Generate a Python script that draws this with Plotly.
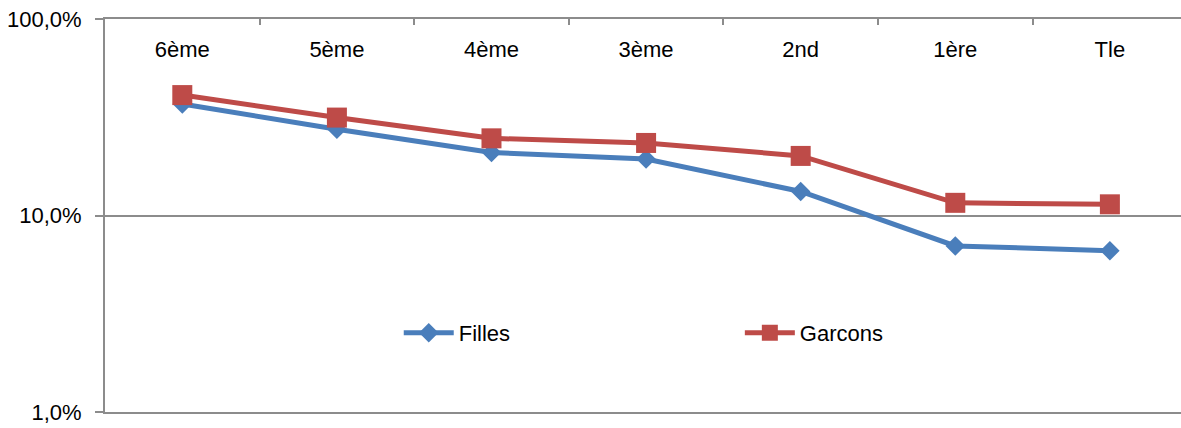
import plotly.graph_objects as go

categories = ["6ème", "5ème", "4ème", "3ème", "2nd", "1ère", "Tle"]
filles = [36.9, 27.5, 20.9, 19.4, 13.25, 7.0, 6.62]
garcons = [41.0, 31.5, 24.7, 23.4, 20.1, 11.6, 11.4]
ytick_vals = [1, 10, 100]
ytick_text = ["1,0%", "10,0%", "100,0%"]

FONT = "Liberation Sans, Arial"
FS = 22
GRAY = "#8c8c8c"
XRANGE = [-0.5, 6.46]

fig = go.Figure()
fig.add_trace(go.Scatter(
    x=categories, y=filles, name="Filles", mode="lines+markers",
    line=dict(color="#4A7EBB", width=5),
    marker=dict(symbol="diamond", size=15, color="#4A7EBB"),
    legend="legend", xaxis="x", yaxis="y",
))
fig.add_trace(go.Scatter(
    x=categories, y=garcons, name="Garcons", mode="lines+markers",
    line=dict(color="#BE4B48", width=5),
    marker=dict(symbol="square", size=20, color="#BE4B48"),
    legend="legend2", xaxis="x2", yaxis="y",
))

leg_common = dict(
    orientation="h", y=0.201, xanchor="left", yanchor="middle",
    font=dict(family=FONT, size=FS, color="black"),
    bgcolor="rgba(0,0,0,0)", itemwidth=50,
)

fig.update_layout(
    width=1181, height=428,
    margin=dict(l=105, r=0, t=19, b=16, autoexpand=False),
    paper_bgcolor="white", plot_bgcolor="white",
    font=dict(family=FONT, size=FS, color="black"),
    showlegend=True,
    legend=dict(x=0.273, **leg_common),
    legend2=dict(x=0.590, **leg_common),
    # main category axis: top border line with boundary ticks
    xaxis=dict(
        type="category", range=XRANGE, side="top",
        categoryorder="array", categoryarray=categories,
        showline=True, mirror=True, linecolor=GRAY, linewidth=2,
        ticks="inside", ticklen=6, tickcolor=GRAY, tickwidth=2,
        tickson="boundaries", dtick=1, showticklabels=False,
        showgrid=False, zeroline=False,
    ),
    # label axis: category names just below the top border
    xaxis2=dict(
        type="category", overlaying="x", range=XRANGE,
        categoryorder="array", categoryarray=categories,
        anchor="free", position=0.962, side="bottom",
        showline=False, ticks="", showgrid=False, zeroline=False, dtick=1,
        tickfont=dict(family=FONT, size=FS, color="black"),
    ),
    yaxis=dict(
        type="log", range=[0, 2],
        tickvals=ytick_vals, ticktext=ytick_text,
        showline=True, linecolor=GRAY, linewidth=2,
        ticks="outside", ticklen=8, tickcolor=GRAY, tickwidth=2,
        showgrid=True, gridcolor=GRAY, gridwidth=2,
        zeroline=False, ticklabelstandoff=9,
        tickfont=dict(family=FONT, size=FS, color="black"),
    ),
)

fig.write_html("out.html", config={"displayModeBar": False},
               post_script="document.body.style.margin='0px';")
